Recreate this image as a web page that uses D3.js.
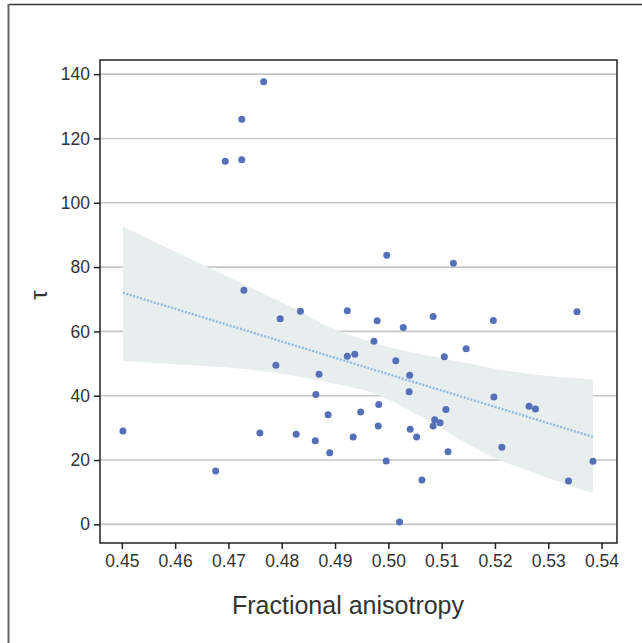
<!DOCTYPE html>
<html lang="en">
<head>
    <meta charset="utf-8" />
    <title>FA vs tau</title>
    <style>
      body { margin: 0; background: #fff; }
      svg text { font-family: "Liberation Sans", Arial, sans-serif; fill: #333; }
    </style>
</head>
<body>
    <div id="chart"></div>
    <script src="https://cdnjs.cloudflare.com/ajax/libs/d3/7.8.5/d3.min.js"></script>
    <script type="text/javascript">

    // scatter points
    var faValues = [0.4502, 0.4676, 0.4694, 0.4725, 0.4725, 0.4766, 0.4729, 0.4759, 0.4789, 0.4797,
                    0.4827, 0.4835, 0.4863, 0.4864, 0.4870, 0.4887, 0.4890, 0.4923, 0.4923, 0.4937,
                    0.4934, 0.4948, 0.4973, 0.4979, 0.4981, 0.4982, 0.4996, 0.4997, 0.5014, 0.5021,
                    0.5028, 0.5039, 0.5040, 0.5041, 0.5053, 0.5063, 0.5084, 0.5084, 0.5087, 0.5097,
                    0.5105, 0.5108, 0.5112, 0.5122, 0.5146, 0.5197, 0.5198, 0.5213, 0.5264, 0.5276,
                    0.5338, 0.5354, 0.5384];
    var tauValues = [29.0, 16.6, 112.9, 113.4, 126.0, 137.6, 72.8, 28.4, 49.5, 63.9,
                     28.0, 66.3, 26.0, 40.4, 46.7, 34.1, 22.3, 66.4, 52.3, 52.9,
                     27.2, 34.9, 56.9, 63.3, 30.6, 37.3, 19.7, 83.7, 50.9, 0.7,
                     61.2, 41.2, 46.4, 29.6, 27.2, 13.8, 64.6, 30.6, 32.5, 31.6,
                     52.1, 35.7, 22.6, 81.2, 54.6, 63.4, 39.6, 24.0, 36.7, 35.9,
                     13.5, 66.1, 19.6];

    // fitted line and confidence band
    var fitX = [0.4502, 0.5384];
    var fitY = [72.0, 27.2];
    var bandX     = [0.4502, 0.4600, 0.4725, 0.4830, 0.4891, 0.4930, 0.4969, 0.5003, 0.5050, 0.5103, 0.5150, 0.5197, 0.5260, 0.5384];
    var bandUpper = [92.6,   84.8,   75.0,   66.6,   61.2,   58.7,   56.7,   55.1,   53.3,   51.6,   50.0,   48.5,   46.9,   45.1];
    var bandLower = [50.8,   49.8,   48.4,   46.0,   44.0,   42.6,   41.0,   38.6,   34.5,   29.6,   24.8,   20.8,   16.8,   9.6];

    var xTicks = [0.45, 0.46, 0.47, 0.48, 0.49, 0.50, 0.51, 0.52, 0.53, 0.54];
    var yTicks = [0, 20, 40, 60, 80, 100, 120, 140];

    var W = 642, H = 643;
    var margin = { top: 60, right: 25, bottom: 100, left: 100 },
        width = W - margin.left - margin.right,
        height = H - margin.top - margin.bottom;

    var svg = d3.select('#chart').append('svg')
        .attr('width', W)
        .attr('height', H);

    // outer frame (only top and left show)
    svg.append('line').attr('x1', 8.5).attr('x2', W).attr('y1', 4.5).attr('y2', 4.5)
        .attr('stroke', '#333').attr('stroke-width', 1.5);
    svg.append('line').attr('x1', 8.5).attr('x2', 8.5).attr('y1', 4).attr('y2', H)
        .attr('stroke', '#666').attr('stroke-width', 2);

    var g = svg.append('g')
        .attr('transform', 'translate(' + margin.left + ',' + margin.top + ')');

    var x = d3.scaleLinear().domain([0.4459, 0.5429]).range([0, width]);
    var y = d3.scaleLinear().domain([-5.8, 144.4]).range([height, 0]);

    // horizontal grid
    g.selectAll('.grid')
        .data(yTicks)
        .enter().append('line')
        .attr('x1', 0).attr('x2', width)
        .attr('y1', function (d) { return y(d); })
        .attr('y2', function (d) { return y(d); })
        .attr('stroke', '#c6c6c6')
        .attr('stroke-width', 1.6);

    // confidence band
    var band = bandX.map(function (v, i) { return [v, bandLower[i], bandUpper[i]]; });
    g.append('path')
        .datum(band)
        .attr('fill', '#e8eeee')
        .attr('d', d3.area()
            .curve(d3.curveMonotoneX)
            .x(function (d) { return x(d[0]); })
            .y0(function (d) { return y(d[1]); })
            .y1(function (d) { return y(d[2]); }));

    // regression line
    g.append('path')
        .datum(fitX.map(function (v, i) { return [v, fitY[i]]; }))
        .attr('fill', 'none')
        .attr('stroke', '#8fbbe6')
        .attr('stroke-width', 2.4)
        .attr('stroke-dasharray', '2,1.6')
        .attr('d', d3.line()
            .x(function (d) { return x(d[0]); })
            .y(function (d) { return y(d[1]); }));

    // points
    g.selectAll('circle')
        .data(faValues.map(function (v, i) { return [v, tauValues[i]]; }))
        .enter().append('circle')
        .attr('cx', function (d) { return x(d[0]); })
        .attr('cy', function (d) { return y(d[1]); })
        .attr('r', 3.5)
        .attr('fill', '#5670b8');

    // axes
    var xAxis = g.append('g')
        .attr('transform', 'translate(0,' + height + ')')
        .call(d3.axisBottom(x).tickValues(xTicks).tickFormat(d3.format('.2f')).tickSize(6).tickPadding(6));
    var yAxis = g.append('g')
        .call(d3.axisLeft(y).tickValues(yTicks).tickSize(6).tickPadding(4));

    [xAxis, yAxis].forEach(function (a) {
        a.select('.domain').remove();
        a.selectAll('line').attr('stroke', '#222').attr('stroke-width', 1.5);
        a.selectAll('text').attr('font-size', '17.5px').attr('fill', '#333')
            .attr('font-family', '"Liberation Sans", Arial, sans-serif');
    });

    // plot frame
    g.append('rect')
        .attr('width', width).attr('height', height)
        .attr('fill', 'none')
        .attr('stroke', '#222')
        .attr('stroke-width', 1.5);

    // axis titles
    svg.append('text')
        .attr('x', 348)
        .attr('y', 614)
        .attr('text-anchor', 'middle')
        .attr('font-size', '25px')
        .text('Fractional anisotropy');

    svg.append('text')
        .attr('transform', 'translate(47,295) rotate(-90)')
        .attr('text-anchor', 'middle')
        .attr('font-size', '24px')
        .text('τ');

    </script>
</body>
</html>
